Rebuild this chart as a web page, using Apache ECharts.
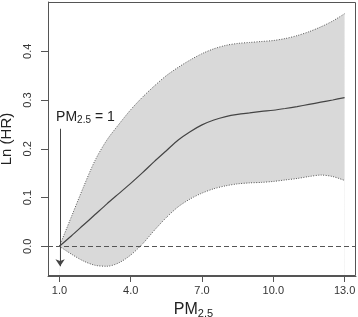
<!DOCTYPE html>
<html>
<head>
<meta charset="utf-8">
<script src="https://cdn.jsdelivr.net/npm/echarts@6/dist/echarts.min.js"></script>
<style>
    html,body{margin:0;padding:0;background:#fff}
    #chart{width:358px;height:317px}
</style>
</head>
<body>
<div id="chart"></div>
<script>
    // PM2.5 vs Ln(HR), spline with 95% CI
    var pmValues = [1, 1.5, 2, 2.5, 3, 3.5, 4, 4.5, 5, 5.5, 6, 6.5, 7, 7.5, 8, 8.5, 9, 9.5, 10, 10.5, 11, 11.5, 12, 12.5, 13];
    var lnHr     = [0, 0.021, 0.043, 0.065, 0.087, 0.108, 0.129, 0.151, 0.174, 0.196, 0.218, 0.235, 0.249, 0.259, 0.266, 0.2705, 0.2735, 0.2765, 0.279, 0.2825, 0.2865, 0.291, 0.2955, 0.3, 0.305];
    var ciUpper  = [0, 0.06, 0.12, 0.176, 0.218, 0.25, 0.28, 0.306, 0.329, 0.35, 0.367, 0.382, 0.395, 0.405, 0.412, 0.416, 0.418, 0.42, 0.422, 0.426, 0.432, 0.44, 0.45, 0.462, 0.477];
    var ciLower  = [0, -0.016, -0.03, -0.039, -0.041, -0.034, -0.018, 0.005, 0.033, 0.059, 0.081, 0.097, 0.109, 0.118, 0.124, 0.128, 0.13, 0.131, 0.133, 0.136, 0.139, 0.143, 0.146, 0.143, 0.135];
    var xTicks = [1, 4, 7, 10, 13];
    var yTicks = [0, 0.1, 0.2, 0.3, 0.4];
    var refPoint = [1.03, 0.241, -0.041]; // arrow x, top, bottom

    var font = 'Liberation Sans, Arial, sans-serif';
    function pairs(ys){
        var out = [];
        for(var i=0;i<pmValues.length;i++){ out.push([pmValues[i], ys[i]]) }
        return out
    }
    var dotted = { color: '#555', width: 1, type: [1, 1.5] };
    var smoothVal = 0.3;

    var chart = echarts.init(document.getElementById('chart'));
    var option = {
        animation: false,
        textStyle: { fontFamily: font },
        grid: {
            left: 48, right: 2, top: 2, bottom: 41,
            outerBoundsMode: 'none',
            containLabel: false,
            show: false
        },
        xAxis: {
            type: 'value',
            min: 0.52,
            max: 13.48,
            z: 5,
            axisLine: { show: true, onZero: false, lineStyle: { color: '#555' } },
            splitLine: { show: false },
            axisTick: {
                show: true,
                customValues: xTicks,
                length: 6,
                lineStyle: { color: '#555' }
            },
            axisLabel: {
                customValues: xTicks,
                formatter: function(v){ return v.toFixed(1) },
                fontSize: 11,
                color: '#333',
                margin: 9
            },
            name: 'PM{s|2.5}',
            nameLocation: 'middle',
            nameGap: 25,
            nameTextStyle: {
                fontSize: 16,
                color: '#222',
                padding: [0, 17, 0, 0],
                rich: { s: { fontSize: 11, color: '#222', padding: [7, 0, 0, 0] } }
            }
        },
        yAxis: {
            type: 'value',
            min: -0.061,
            max: 0.501,
            z: 5,
            axisLine: { show: true, onZero: false, lineStyle: { color: '#555' } },
            splitLine: { show: false },
            axisTick: {
                show: true,
                customValues: yTicks,
                length: 7,
                lineStyle: { color: '#555' }
            },
            axisLabel: {
                customValues: yTicks,
                rotate: 90,
                formatter: function(v){ return v.toFixed(1) },
                fontSize: 11,
                color: '#333',
                margin: 15
            },
            name: 'Ln (HR)',
            nameLocation: 'middle',
            nameRotate: 90,
            nameGap: 33,
            nameTextStyle: { fontSize: 15, color: '#222' }
        },
        series: [
            {
                // grey from the bottom up to the upper bound
                name: 'upperFill',
                type: 'line',
                smooth: smoothVal,
                symbol: 'none',
                silent: true,
                z: 1,
                lineStyle: { opacity: 0 },
                areaStyle: { color: '#d9d9d9', opacity: 1, origin: 'start' },
                data: pairs(ciUpper)
            },
            {
                // white from the bottom up to the lower bound
                name: 'lowerFill',
                type: 'line',
                smooth: smoothVal,
                symbol: 'none',
                silent: true,
                z: 1,
                lineStyle: { opacity: 0 },
                areaStyle: { color: '#ffffff', opacity: 1, origin: 'start' },
                data: pairs(ciLower)
            },
            {
                name: 'upper',
                type: 'line',
                smooth: smoothVal,
                symbol: 'none',
                z: 3,
                lineStyle: dotted,
                data: pairs(ciUpper)
            },
            {
                name: 'lower',
                type: 'line',
                smooth: smoothVal,
                symbol: 'none',
                z: 3,
                lineStyle: dotted,
                data: pairs(ciLower),
                markLine: {
                    silent: true,
                    symbol: ['none', 'arrow'],
                    symbolSize: 7,
                    label: { show: false },
                    lineStyle: { color: '#444', width: 1, type: 'solid' },
                    data: [[
                        { coord: [refPoint[0], refPoint[1]] },
                        { coord: [refPoint[0], refPoint[2]] }
                    ]]
                },
                markPoint: {
                    silent: true,
                    symbol: 'circle',
                    symbolSize: 0,
                    label: {
                        show: true,
                        position: [-4, -20],
                        formatter: '{a|PM}{b|2.5}{a| = 1}',
                        rich: {
                            a: { fontSize: 14, color: '#222', fontFamily: font },
                            b: { fontSize: 10, color: '#222', fontFamily: font, padding: [6, 0, 0, 0] }
                        }
                    },
                    data: [{ coord: [refPoint[0], refPoint[1]] }]
                }
            },
            {
                name: 'lnhr',
                type: 'line',
                smooth: smoothVal,
                symbol: 'none',
                z: 4,
                lineStyle: { color: '#444', width: 1.2 },
                data: pairs(lnHr),
                markLine: {
                    silent: true,
                    symbol: 'none',
                    label: { show: false },
                    lineStyle: { color: '#555', width: 1, type: [5, 3] },
                    data: [{ yAxis: 0 }]
                }
            }
        ]
    };
    chart.setOption(option);
    // full box around the plot, taken from the grid rect
    var rect = chart.getModel().getComponent('grid').coordinateSystem.getRect();
    chart.setOption({
        graphic: [{
            type: 'rect',
            silent: true,
            z: 10,
            shape: { x: rect.x + 0.5, y: rect.y + 0.5, width: rect.width - 1, height: rect.height - 1 },
            style: { fill: null, stroke: '#555', lineWidth: 1 }
        }]
    });
</script>
</body>
</html>
